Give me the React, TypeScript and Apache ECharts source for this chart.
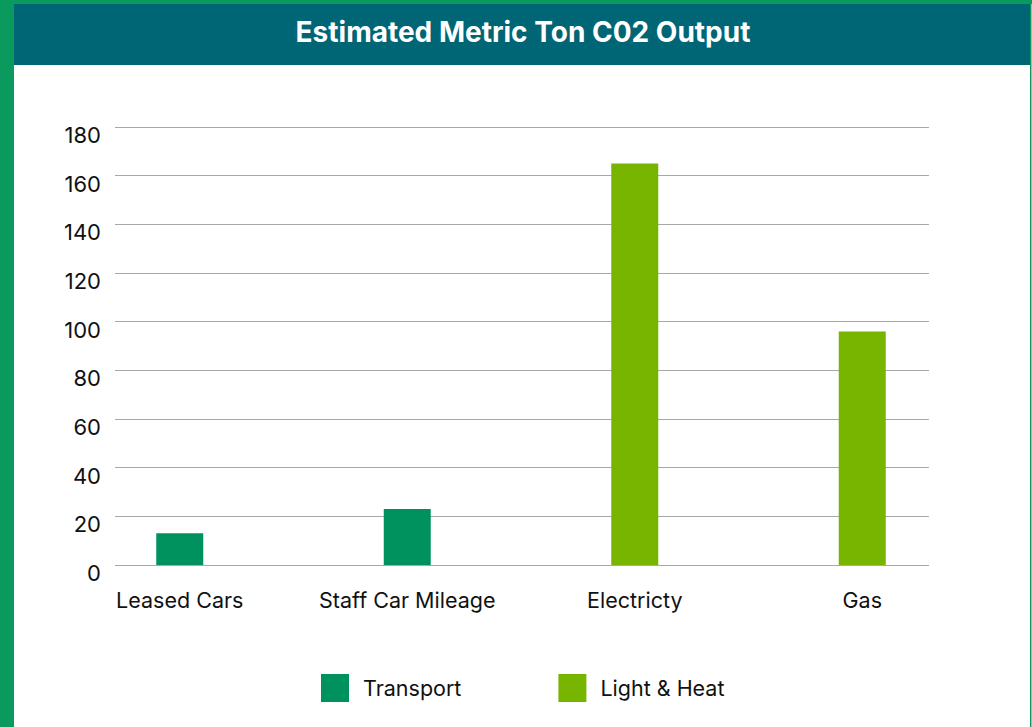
import React, { useEffect, useRef } from "react";
import * as echarts from "echarts";

const title = "Estimated Metric Ton C02 Output";
const categories = ["Leased Cars", "Staff Car Mileage", "Electricty", "Gas"];
const transport = [13, 23, null, null];
const lightHeat = [null, null, 165, 96];
const seriesNames = ["Transport", "Light & Heat"];
const yMin = 0;
const yMax = 180;
const yInterval = 20;

const FONT = "Inter, 'Noto Sans', sans-serif";
const GREEN_DARK = "#00925e";
const GREEN_LIGHT = "#78b500";
const TEAL = "#006676";
const BORDER = "#0a9a5e";

export default function App() {
  const ref = useRef<HTMLDivElement>(null);

  useEffect(() => {
    document.body.style.margin = "0";
    const chart = echarts.init(ref.current!, null, { renderer: "svg" });
    const top = 127;
    const bottom = 727 - 565;
    chart.setOption({
      animation: false,
      backgroundColor: "#ffffff",
      textStyle: { fontFamily: FONT },
      graphic: [
        { type: "rect", shape: { x: 0, y: 0, width: 1032, height: 4 }, style: { fill: BORDER } },
        { type: "rect", shape: { x: 0, y: 0, width: 14, height: 727 }, style: { fill: BORDER } },
        { type: "rect", shape: { x: 14, y: 4, width: 1017, height: 61 }, style: { fill: TEAL } },
        { type: "rect", shape: { x: 1030, y: 0, width: 1.5, height: 727 }, style: { fill: BORDER } },
        {
          type: "text",
          x: 523,
          y: 32,
          style: {
            text: title,
            fill: "#ffffff",
            font: `bold 28px ${FONT}`,
            align: "center",
            verticalAlign: "middle",
          },
        },
      ],
      legend: {
        left: 321,
        top: 674,
        padding: 0,
        itemWidth: 28,
        itemHeight: 28,
        itemGap: 97,
        icon: "rect",
        data: seriesNames,
        textStyle: { fontSize: 21.5, color: "#111111", fontFamily: FONT, padding: [0, 0, 0, 9] },
      },
      grid: [
        { left: 115, right: 1032 - 929, top, bottom },
        { left: 66, right: 1032 - 976, top, bottom },
      ],
      xAxis: [
        { gridIndex: 0, type: "category", data: categories, show: false },
        {
          gridIndex: 1,
          type: "category",
          data: categories,
          axisLine: { show: false },
          axisTick: { show: false },
          axisLabel: {
            interval: 0,
            hideOverlap: false,
            fontSize: 21.5,
            color: "#111111",
            margin: 24,
            fontFamily: FONT,
          },
        },
      ],
      yAxis: [
        {
          gridIndex: 0,
          type: "value",
          min: yMin,
          max: yMax,
          interval: yInterval,
          axisLine: { show: false },
          axisTick: { show: false },
          axisLabel: {
            fontSize: 22,
            color: "#111111",
            margin: 14,
            fontFamily: FONT,
            verticalAlign: "top",
            lineHeight: 16,
          },
          splitLine: { lineStyle: { color: "#a8a8a8", width: 1 } },
        },
        {
          gridIndex: 1,
          type: "value",
          min: yMin,
          max: yMax,
          interval: yInterval,
          show: false,
          splitLine: { show: false },
        },
      ],
      series: [
        {
          name: seriesNames[0],
          type: "bar",
          xAxisIndex: 1,
          yAxisIndex: 1,
          stack: "s",
          barWidth: 47,
          data: transport,
          itemStyle: { color: GREEN_DARK },
        },
        {
          name: seriesNames[1],
          type: "bar",
          xAxisIndex: 1,
          yAxisIndex: 1,
          stack: "s",
          barWidth: 47,
          data: lightHeat,
          itemStyle: { color: GREEN_LIGHT },
        },
      ],
    });
    return () => chart.dispose();
  }, []);

  return <div ref={ref} style={{ width: 1032, height: 727 }} />;
}
